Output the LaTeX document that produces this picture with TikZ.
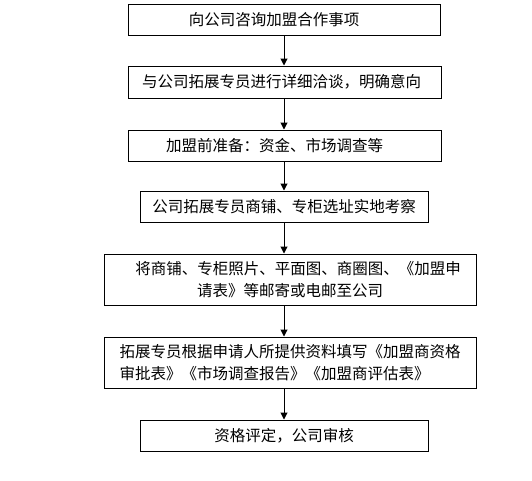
\documentclass[tikz,border=0pt]{standalone}
\usepackage{fontspec}
\newfontfamily\cjk{Noto Sans CJK SC}
\usetikzlibrary{arrows.meta}
\tikzset{
  stepbox/.style={draw=black, line width=1pt, fill=white, inner sep=0pt,
    font=\cjk\fontsize{15.5pt}{22pt}\selectfont, text=black},
  flow/.style={draw=black, line width=1pt, -{Triangle[width=7pt,length=7pt]}}
}
\begin{document}
\begin{tikzpicture}[x=1pt,y=-1pt]
\useasboundingbox (0,0) rectangle (532,480);
\fill[white] (0,0) rectangle (532,480);
\node[stepbox, minimum width=312pt, minimum height=31pt] (b1) at (284,19.5) {向公司咨询加盟合作事项\hspace*{20pt}};
\node[stepbox, minimum width=313pt, minimum height=32pt] (b2) at (284.5,82) {与公司拓展专员进行详细洽谈，明确意向\hspace*{6pt}};
\node[stepbox, minimum width=313pt, minimum height=31pt] (b3) at (284.5,145.5) {加盟前准备：资金、市场调查等\hspace*{20pt}};
\node[stepbox, minimum width=288pt, minimum height=31pt] (b4) at (284,206.5) {公司拓展专员商铺、专柜选址实地考察};
\node[stepbox, minimum width=372pt, minimum height=51pt, align=center] (b5) at (290,279.5) {\hspace*{16pt}将商铺、专柜照片、平面图、商圈图、《加盟申\\请表》等邮寄或电邮至公司};
\node[stepbox, minimum width=372pt, minimum height=51pt, align=left] (b6) at (290,362.5) {拓展专员根据申请人所提供资料填写《加盟商资格\\审批表》《市场调查报告》《加盟商评估表》};
\node[stepbox, minimum width=288pt, minimum height=31pt] (b7) at (284,435.5) {资格评定，公司审核};
\draw[flow] (b1.south -| 284,0) -- (b2.north -| 284,0);
\draw[flow] (b2.south -| 284,0) -- (b3.north -| 284,0);
\draw[flow] (b3.south -| 284,0) -- (b4.north -| 284,0);
\draw[flow] (b4.south -| 284,0) -- (b5.north -| 284,0);
\draw[flow] (b5.south -| 284,0) -- (b6.north -| 284,0);
\draw[flow] (b6.south -| 284,0) -- (b7.north -| 284,0);
\end{tikzpicture}
\end{document}
